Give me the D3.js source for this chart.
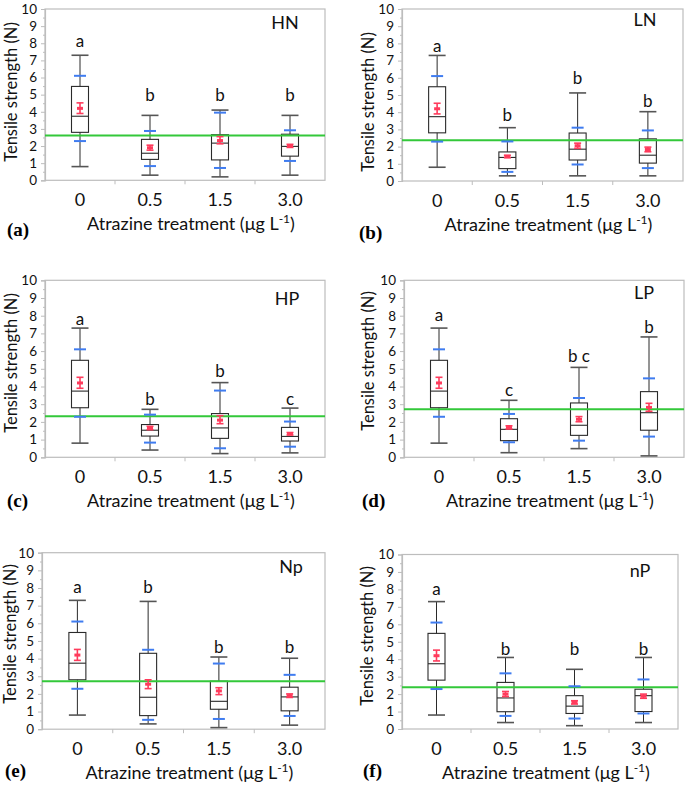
<!DOCTYPE html>
<html><head><meta charset="utf-8">
<script src="https://cdn.jsdelivr.net/npm/d3@7/dist/d3.min.js"></script>
<style>body{margin:0;background:#fff}svg{display:block}</style>
</head><body>
<svg id="chart" width="685" height="785"></svg>
<script>
// ---------- data ----------
const categories = ["0", "0.5", "1.5", "3.0"];
const panelNames = ["HN", "LN", "HP", "LP", "Np", "nP"];
const panelTags = ["(a)", "(b)", "(c)", "(d)", "(e)", "(f)"];
const yTicks = [0, 1, 2, 3, 4, 5, 6, 7, 8, 9, 10];
const yTitle = "Tensile strength (N)";
const xTitle = "Atrazine treatment (μg L";

const whiskerMin = [
  [0.8, 0.3, 0.2, 0.3], [0.8, 0.3, 0.3, 0.3], [0.8, 0.41, 0.21, 0.25],
  [0.8, 0.26, 0.49, 0.08], [0.8, 0.3, 0.09, 0.23], [0.8, 0.37, 0.19, 0.37]];
const q1 = [
  [2.8, 1.22, 1.19, 1.41], [2.8, 0.72, 1.22, 1.04], [2.8, 1.2, 1.07, 0.92],
  [2.8, 0.94, 1.24, 1.53], [2.8, 0.77, 1.13, 1.04], [2.8, 0.99, 0.89, 1.0]];
const median = [
  [3.74, 1.58, 2.17, 1.98], [3.74, 1.37, 1.85, 1.5], [3.74, 1.53, 1.66, 1.18],
  [3.74, 1.58, 1.81, 2.52], [3.74, 1.81, 1.58, 1.83], [3.74, 1.78, 1.31, 1.91]];
const q3 = [
  [5.48, 2.39, 2.66, 2.69], [5.48, 1.69, 2.79, 2.45], [5.48, 1.85, 2.47, 1.69],
  [5.48, 2.18, 3.07, 3.71], [5.48, 4.3, 2.72, 2.38], [5.48, 2.67, 1.91, 2.28]];
const whiskerMax = [
  [7.3, 3.79, 4.1, 3.79], [7.3, 3.1, 5.12, 4.03], [7.3, 2.71, 4.22, 2.78],
  [7.3, 3.22, 5.08, 6.8], [7.3, 7.24, 4.09, 4.02], [7.3, 4.1, 3.42, 4.1]];
const blueLow = [
  [2.29, 0.83, 0.72, 1.13], [2.29, 0.53, 0.96, 0.75], [2.29, 0.83, 0.51, 0.6],
  [2.29, 0.85, 0.94, 1.17], [2.29, 0.53, 0.58, 0.75], [2.29, 0.75, 0.6, 0.89]];
const blueHigh = [
  [6.1, 2.88, 3.95, 2.92], [6.1, 2.3, 3.1, 2.94], [6.1, 2.41, 3.77, 2.02],
  [6.1, 2.45, 3.35, 4.46], [6.1, 4.5, 3.72, 3.08], [6.1, 3.19, 2.45, 2.84]];
const meanVal = [
  [4.2, 1.9, 2.32, 2.0], [4.2, 1.42, 2.05, 1.83], [4.2, 1.65, 2.1, 1.32],
  [4.2, 1.68, 2.15, 2.82], [4.2, 2.55, 2.17, 1.9], [4.2, 2.0, 1.52, 1.88]];
const meanLow = [
  [3.9, 1.76, 2.13, 1.92], [3.9, 1.35, 1.9, 1.7], [3.9, 1.56, 1.9, 1.26],
  [3.9, 1.6, 2.01, 2.6], [3.9, 2.3, 1.96, 1.8], [3.9, 1.86, 1.43, 1.76]];
const meanHigh = [
  [4.52, 2.05, 2.55, 2.1], [4.52, 1.5, 2.2, 1.97], [4.52, 1.75, 2.35, 1.4],
  [4.52, 1.78, 2.3, 3.05], [4.52, 2.8, 2.35, 2.0], [4.52, 2.15, 1.62, 2.0]];
const letters = [
  ["a", "b", "b", "b"], ["a", "b", "b", "b"], ["a", "b", "b", "c"],
  ["a", "c", "b c", "b"], ["a", "b", "b", "b"], ["a", "b", "b", "b"]];
const letterY = [
  [8.15, 4.95, 4.95, 4.95], [7.87, 3.82, 5.99, 4.63], [7.83, 3.28, 4.9, 3.3],
  [8.02, 3.8, 5.7, 7.36], [8.08, 8.04, 4.68, 4.68], [8.0, 4.6, 4.6, 4.6]];
const greenLine = [2.62, 2.37, 2.32, 2.71, 2.72, 2.39];

// ---------- layout ----------
// left, top, width, height, yTitle baseline x, yTitle center y, tag x, tag baseline y
const layout = [
  [45, 9, 280, 171.3, 17, 92, 7, 236],
  [402, 9, 281, 172, 374, 102, 359, 239],
  [45, 280.3, 280, 177, 17, 363, 7, 507],
  [404, 280.3, 280, 177, 374, 361, 362, 507],
  [42, 552.7, 283, 176.5, 16, 634, 5, 777],
  [402, 554.5, 276, 174.5, 373, 636, 363, 777]
];
const nameOffset = [[-40, 20], [-38, 17], [-38, 25], [-40, 19], [-34, 20], [-38, 22]];

const FONT = "Lato, 'Open Sans', sans-serif";
const GRAY = "#bdbdbd";
const DARK = "#2a2a2a";
const BLUE = "#3f7cf0";
const RED = "#ff3b5c";
const GREEN = "#33c83a";
const TICK_FS = 13.5;

const svg = d3.select("#chart");

panelNames.forEach((name, i) => {
  const [L, T, Wd, Ht, ytX, ytY, tagX, tagY] = layout[i];
  const g = svg.append("g");
  const x = d3.scaleBand().domain(categories).range([L, L + Wd]);
  const y = d3.scaleLinear().domain([0, 10]).range([T + Ht, T]);
  const bw = 17;
  const cx = c => x(c) + x.bandwidth() / 2;

  // plot frame
  g.append("rect").attr("x", L).attr("y", T).attr("width", Wd).attr("height", Ht)
    .attr("fill", "none").attr("stroke", GRAY).attr("stroke-width", 1.2);

  // y axis major
  const ya = g.append("g").attr("transform", `translate(${L},0)`)
    .call(d3.axisLeft(y).tickValues(yTicks).tickSize(4).tickPadding(4));
  ya.select(".domain").attr("stroke", GRAY).attr("stroke-width", 1.2);
  ya.selectAll(".tick line").attr("stroke", GRAY);
  ya.selectAll(".tick text").attr("font-family", FONT).attr("font-size", TICK_FS).attr("fill", "#111");
  // y minor ticks
  const ym = g.append("g").attr("transform", `translate(${L},0)`)
    .call(d3.axisLeft(y).tickValues(yTicks.slice(1).map(v => v - 0.5)).tickSize(2).tickFormat(""));
  ym.select(".domain").remove();
  ym.selectAll(".tick line").attr("stroke", GRAY);

  // x axis boundary ticks
  g.selectAll(".xb").data(categories.slice(1)).enter().append("line")
    .attr("x1", d => x(d)).attr("x2", d => x(d))
    .attr("y1", T + Ht).attr("y2", T + Ht + 4).attr("stroke", GRAY);
  // x tick labels
  const xa = g.append("g").attr("transform", `translate(0,${T + Ht})`)
    .call(d3.axisBottom(x).tickSize(0).tickPadding(13));
  xa.select(".domain").remove();
  xa.selectAll(".tick text").attr("font-family", FONT).attr("font-size", 18).attr("fill", "#111");

  // x title
  const xt = g.append("text").attr("x", L + Wd / 2 + 6).attr("y", T + Ht + 50)
    .attr("text-anchor", "middle").attr("font-family", FONT).attr("font-size", 18).attr("fill", "#111");
  xt.append("tspan").text(xTitle);
  xt.append("tspan").attr("dy", -7).attr("font-size", 12).text("-1");
  xt.append("tspan").attr("dy", 7).text(")");

  // y title
  g.append("text").attr("transform", `translate(${ytX},${ytY}) rotate(-90)`)
    .attr("text-anchor", "middle").attr("font-family", FONT).attr("font-size", 16.5).attr("fill", "#111")
    .text(yTitle);

  // panel tag
  g.append("text").attr("x", tagX).attr("y", tagY)
    .attr("font-family", "'Liberation Serif', 'Times New Roman', serif").attr("font-weight", "bold")
    .attr("font-size", 19).attr("fill", "#000").text(panelTags[i]);

  // panel name
  g.append("text").attr("x", L + Wd + nameOffset[i][0]).attr("y", T + nameOffset[i][1])
    .attr("text-anchor", "middle").attr("font-family", FONT).attr("font-size", 18).attr("fill", "#111")
    .text(name);

  // boxes
  categories.forEach((c, j) => {
    const X = cx(c);
    const gb = g.append("g");
    gb.append("line").attr("x1", X).attr("x2", X).attr("y1", y(whiskerMax[i][j])).attr("y2", y(q3[i][j]))
      .attr("stroke", DARK).attr("stroke-width", 1);
    gb.append("line").attr("x1", X).attr("x2", X).attr("y1", y(q1[i][j])).attr("y2", y(whiskerMin[i][j]))
      .attr("stroke", DARK).attr("stroke-width", 1);
    [whiskerMax[i][j], whiskerMin[i][j]].forEach(v => {
      gb.append("line").attr("x1", X - bw / 2).attr("x2", X + bw / 2).attr("y1", y(v)).attr("y2", y(v))
        .attr("stroke", "#555").attr("stroke-width", 1.6);
    });
    gb.append("rect").attr("x", X - bw / 2).attr("width", bw)
      .attr("y", y(q3[i][j])).attr("height", y(q1[i][j]) - y(q3[i][j]))
      .attr("fill", "none").attr("stroke", DARK).attr("stroke-width", 1.1);
    gb.append("line").attr("x1", X - bw / 2).attr("x2", X + bw / 2)
      .attr("y1", y(median[i][j])).attr("y2", y(median[i][j])).attr("stroke", DARK).attr("stroke-width", 1.1);
    g.append("text").attr("x", X).attr("y", y(letterY[i][j])).attr("dy", "0.35em")
      .attr("text-anchor", "middle").attr("font-family", FONT).attr("font-size", 17).attr("fill", "#111")
      .text(letters[i][j]);
  });

  // green reference line
  g.append("line").attr("x1", L).attr("x2", L + Wd).attr("y1", y(greenLine[i])).attr("y2", y(greenLine[i]))
    .attr("stroke", GREEN).attr("stroke-width", 2);

  // blue marks and red mean bars
  categories.forEach((c, j) => {
    const X = cx(c);
    [blueLow[i][j], blueHigh[i][j]].forEach(v => {
      g.append("line").attr("x1", X - 6).attr("x2", X + 6).attr("y1", y(v)).attr("y2", y(v))
        .attr("stroke", BLUE).attr("stroke-width", 2);
    });
    g.append("line").attr("x1", X).attr("x2", X).attr("y1", y(meanHigh[i][j])).attr("y2", y(meanLow[i][j]))
      .attr("stroke", RED).attr("stroke-width", 1.6);
    [meanHigh[i][j], meanLow[i][j]].forEach(v => {
      g.append("line").attr("x1", X - 3.5).attr("x2", X + 3.5).attr("y1", y(v)).attr("y2", y(v))
        .attr("stroke", RED).attr("stroke-width", 1.6);
    });
    g.append("rect").attr("x", X - 3).attr("width", 6).attr("y", y(meanVal[i][j]) - 1.5).attr("height", 3)
      .attr("fill", RED);
  });
});
</script>
</body></html>
